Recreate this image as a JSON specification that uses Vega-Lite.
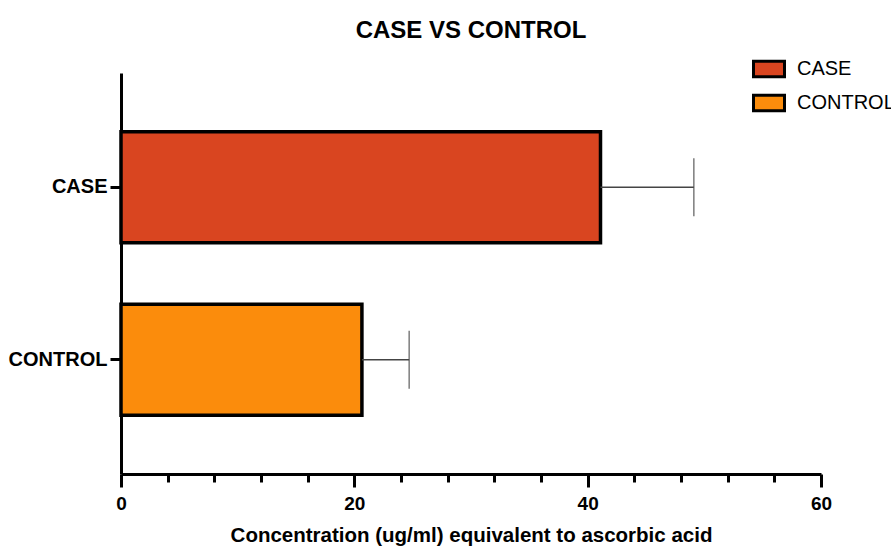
{
  "$schema": "https://vega.github.io/schema/vega-lite/v6.json",
  "autosize": "none",
  "width": 700,
  "height": 401,
  "padding": {"left": 121, "top": 73, "right": 70, "bottom": 76},
  "background": "white",
  "title": {
    "text": "CASE VS CONTROL",
    "font": "Liberation Sans",
    "fontSize": 24,
    "fontWeight": "bold",
    "color": "black",
    "anchor": "middle",
    "baseline": "alphabetic",
    "offset": -10
  },
  "data": {
    "values": [
      {"group": "CASE", "mean": 41.1, "upper": 49.1},
      {"group": "CONTROL", "mean": 20.65, "upper": 24.7}
    ]
  },
  "encoding": {
    "y": {
      "field": "group",
      "type": "nominal",
      "sort": ["CASE", "CONTROL"],
      "scale": {"paddingInner": 0.357, "paddingOuter": 0.341},
      "axis": {
        "title": null,
        "domainColor": "black",
        "domainWidth": 3,
        "tickColor": "black",
        "tickWidth": 3,
        "tickSize": 11,
        "labelFont": "Liberation Sans",
        "labelFontSize": 20,
        "labelFontWeight": "bold",
        "labelColor": "black",
        "labelPadding": 3
      }
    }
  },
  "layer": [
    {
      "mark": {"type": "bar", "stroke": "black", "strokeWidth": 3.5},
      "encoding": {
        "x": {
          "field": "mean",
          "type": "quantitative",
          "scale": {"domain": [0, 60], "nice": false},
          "axis": {
            "title": "Concentration (ug/ml) equivalent to ascorbic acid",
            "titleFont": "Liberation Sans",
            "titleFontSize": 20.5,
            "titleFontWeight": "bold",
            "titleColor": "black",
            "titlePadding": 12,
            "values": [0, 2, 4, 6, 8, 10, 12, 14, 16, 18, 20, 22, 24, 26, 28, 30, 32, 34, 36, 38, 40, 42, 44, 46, 48, 50, 52, 54, 56, 58, 60],
            "labelExpr": "datum.value % 20 === 0 ? datum.label : ''",
            "labelOverlap": false,
            "labelFlush": false,
            "labelFont": "Liberation Sans",
            "labelFontSize": 19,
            "labelFontWeight": "bold",
            "labelColor": "black",
            "labelPadding": 7,
            "grid": false,
            "domainColor": "black",
            "domainWidth": 3,
            "tickColor": "black",
            "tickWidth": 3,
            "tickSize": {"condition": {"test": "datum.value % 20 === 0", "value": 13}, "value": 8}
          }
        },
        "fill": {
          "field": "group",
          "type": "nominal",
          "scale": {"domain": ["CASE", "CONTROL"], "range": ["#D94520", "#FB8C0C"]},
          "legend": {
            "title": null,
            "orient": "none",
            "legendX": 631,
            "legendY": -21,
            "symbolType": "M-1,-0.5H1V0.5H-1Z",
            "symbolSize": 961,
            "symbolStrokeColor": "black",
            "symbolStrokeWidth": 3,
            "symbolOpacity": 1,
            "labelFont": "Liberation Sans",
            "labelFontSize": 20,
            "labelColor": "black",
            "labelOffset": 11,
            "rowPadding": 3,
            "padding": 0
          }
        }
      }
    },
    {
      "mark": {"type": "rule", "color": "#444444", "strokeWidth": 1.5},
      "encoding": {
        "x": {"field": "mean", "type": "quantitative"},
        "x2": {"field": "upper"}
      }
    },
    {
      "mark": {"type": "tick", "color": "#444444", "thickness": 1.5, "size": 58, "orient": "vertical"},
      "encoding": {
        "x": {"field": "upper", "type": "quantitative"}
      }
    }
  ],
  "config": {
    "view": {"stroke": null}
  }
}
